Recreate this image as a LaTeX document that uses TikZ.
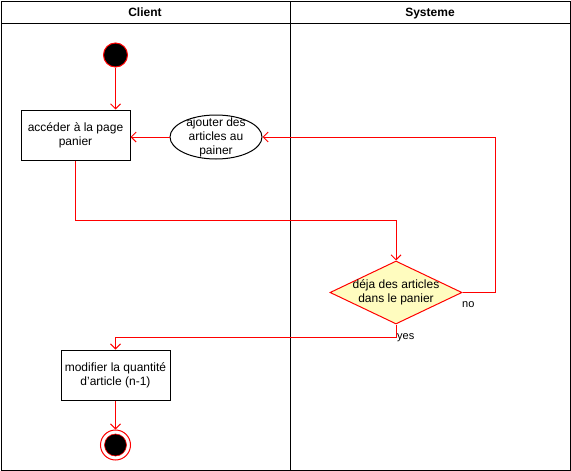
\documentclass[tikz,border=0pt]{standalone}
\usepackage{fontspec}
\setmainfont{Liberation Sans}
\usetikzlibrary{arrows.meta,shapes.geometric}

\tikzset{
    txt/.style={font=\fontsize{12}{14}\selectfont, align=center},
    lanehead/.style={font=\fontsize{12}{14}\selectfont\bfseries, anchor=base, inner sep=0pt},
    small/.style={font=\fontsize{11}{13}\selectfont, inner sep=1pt},
    flow/.style={draw=red, line width=1pt, -{Straight Barb[length=5pt,width=10pt]}},
    actbox/.style={txt, draw, line width=1pt, minimum width=109pt, minimum height=50pt, inner sep=2pt},
}

\begin{document}
\begin{tikzpicture}[x=1pt, y=-1pt]  % one unit = one pixel, y going down
    \useasboundingbox (0,0) rectangle (571,471);

    % Swimlanes
    \draw[line width=1pt] (1,1) rectangle (570,470);
    \draw[line width=1pt] (1,23) -- (570,23);
    \draw[line width=1pt] (290,1) -- (290,470);
    \node[lanehead] (client) at (145,16.5) {Client};
    \node[lanehead] (systeme) at (430,16.5) {Systeme};

    % Nodes
    \node[circle, draw=red, fill=black, line width=1pt, minimum size=24pt, inner sep=0pt] (start) at (115.5,55) {};
    \node[actbox] (page) at (75.5,135) {accéder à la page\\panier};
    \node[txt, ellipse, draw, line width=1pt, minimum width=92pt, minimum height=44pt,
          inner xsep=0pt, inner ysep=-8pt] (ajout) at (216,137) {ajouter des\\articles au\\painer};
    \node[txt, diamond, draw=red, fill=yellow!25, line width=1pt, aspect=2.1,
          minimum width=132pt, minimum height=63pt, inner xsep=-6pt, inner ysep=-3pt] (deja) at (396,292.5)
          {déja des articles\\dans le panier};
    \node[actbox] (modif) at (115.5,375) {modifier la quantité\\d'article (n-1)};
    \node[circle, draw=red, fill=white, line width=1pt, minimum size=30pt, inner sep=0pt] (fin) at (115.5,445) {};
    \node[circle, draw=red, fill=black, line width=0.6pt, minimum size=22pt, inner sep=0pt] (finin) at (fin) {};

    % Connectors
    \draw[flow] (start) -- (start |- page.north);
    \draw[flow] (ajout.west) -- (ajout.west -| page.east);
    \draw[flow] (page.south) -- ++(0,60) -| (deja.north);
    \draw[flow] (deja.east) -- ++(33,0) |- (ajout.east);
    \draw[flow] (deja.south) -- ++(0,13) -| (modif.north);
    \draw[flow] (modif.south) -- (fin.north);

    % Branch labels
    \node[small, anchor=west] (non) at (461,305) {no};
    \node[small, anchor=west] (oui) at (396,338) {yes};
\end{tikzpicture}
\end{document}
